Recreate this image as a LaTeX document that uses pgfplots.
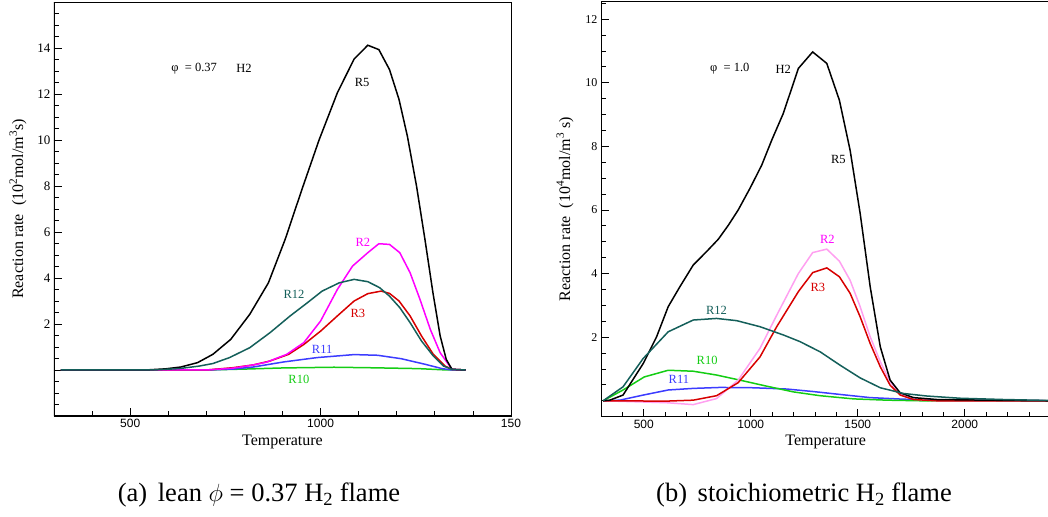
\documentclass[border=0pt]{standalone}
\usepackage{fontspec}
\setmainfont{Liberation Serif}
\newfontfamily\sansf{Liberation Sans}
\usepackage{pgfplots}
\pgfplotsset{compat=1.18}
\definecolor{cteal}{RGB}{20,95,90}
\definecolor{cblue}{RGB}{60,60,255}
\definecolor{cgreen}{RGB}{20,205,20}
\definecolor{cred}{RGB}{215,0,0}
\definecolor{cmag}{RGB}{255,0,255}
\definecolor{cpink}{RGB}{255,160,240}
\tikzset{lab/.style={font=\fontsize{12.5}{12.5}\selectfont, inner sep=0pt}}
\pgfplotsset{
 myaxis/.style={
  scale only axis, anchor=south west,
  axis line style={line width=0.8pt},
  tick pos=left, tick align=inside,
  major tick length=8pt, minor tick length=5pt,
  every tick/.style={black,line width=0.8pt},
  /pgf/number format/assume math mode=true,
  xticklabel style={font=\sansf\fontsize{12}{12}\selectfont},
  yticklabel style={font=\fontsize{13}{13}\selectfont},
  every axis plot/.append style={line width=1.5pt, no marks},
  label style={font=\fontsize{16}{16}\selectfont},
 },
}
\begin{document}
\begin{tikzpicture}
\path[use as bounding box] (0,0) rectangle (1048pt,516pt);
% ---------------- left panel ----------------
\begin{axis}[myaxis, at={(54pt,100pt)}, width=457pt, height=414pt,
  xmin=300, xmax=1500, ymin=-2, ymax=16,
  xtick={500,1000,1500}, xticklabels={500,1000,150},
  minor xtick={300,400,...,1500},
  ytick={-2,0,...,16}, yticklabels={,,2,4,6,8,10,12,14,},
  minor ytick={-2,-1.5,...,16},
  xlabel={Temperature},
  xlabel style={at={(axis description cs:0.5,-0.063)},anchor=center},
  ylabel={Reaction rate\ \ (10\textsuperscript{2}mol/m\textsuperscript{3}s)},
  ylabel style={at={(axis description cs:-0.079,0.5)},anchor=center},
]
\addplot[cgreen] coordinates {(318,0) (700,0) (800,0.04) (903,0.09) (1035,0.12) (1124,0.1) (1257,0.06) (1320,0.01) (1381,0)};
\addplot[cblue] coordinates {(318,0) (700,0) (770,0.04) (823,0.13) (903,0.35) (991,0.54) (1088,0.67) (1150,0.64) (1212,0.49) (1274,0.25) (1319,0.06) (1345,0) (1381,0)};
\addplot[cred] coordinates {(318,0) (700,0) (770,0.1) (823,0.22) (867,0.39) (916,0.68) (956,1.11) (1000,1.69) (1044,2.35) (1088,3.0) (1124,3.32) (1159,3.43) (1181,3.33) (1206,3.0) (1235,2.35) (1265,1.48) (1296,0.68) (1327,0.17) (1345,0.03) (1381,0)};
\addplot[cmag] coordinates {(318,0) (700,0) (770,0.08) (823,0.22) (858,0.34) (911,0.68) (956,1.19) (1000,2.13) (1044,3.50) (1084,4.52) (1124,5.10) (1153,5.49) (1181,5.46) (1208,5.10) (1235,4.23) (1261,3.07) (1288,1.77) (1314,0.75) (1345,0.03) (1381,0)};
\addplot[black] coordinates {(318,0) (540,0) (593,0.05) (633,0.13) (677,0.32) (717,0.68) (764,1.33) (814,2.42) (863,3.79) (907,5.68) (951,7.85) (996,10.0) (1044,12.05) (1088,13.52) (1124,14.12) (1153,13.93) (1181,13.06) (1206,11.76) (1228,10.16) (1252,7.99) (1274,5.68) (1295,3.36) (1314,1.48) (1330,0.46) (1345,0.03) (1381,0)};
\addplot[cteal] coordinates {(318,0) (560,0) (628,0.06) (681,0.17) (717,0.28) (761,0.54) (814,0.97) (867,1.62) (920,2.35) (965,2.92) (1004,3.43) (1049,3.79) (1088,3.94) (1124,3.84) (1155,3.58) (1181,3.21) (1208,2.71) (1235,2.06) (1265,1.26) (1296,0.61) (1323,0.17) (1345,0.03) (1381,0)};
\draw[line width=1.8pt] (rel axis cs:0,1) -- (rel axis cs:0,0) -- (rel axis cs:1,0);
\node[lab] at (axis cs:668,13.1) {φ\ \ = 0.37};
\node[lab] at (axis cs:799,13.1) {H2};
\node[lab] at (axis cs:1109,12.5) {R5};
\node[lab,text=cmag] at (axis cs:1111,5.57) {R2};
\node[lab,text=cteal] at (axis cs:930,3.3) {R12};
\node[lab,text=cred] at (axis cs:1098,2.48) {R3};
\node[lab,text=cblue] at (axis cs:1004,0.91) {R11};
\node[lab,text=cgreen] at (axis cs:943,-0.43) {R10};
\end{axis}
% ---------------- right panel ----------------
\begin{axis}[myaxis, at={(601pt,99.3pt)}, width=449.4pt, height=415pt,
  xmin=300, xmax=2400, ymin=-0.5, ymax=12.55,
  xtick={500,1000,1500,2000}, xticklabels={500,1000,1500,2000},
  minor xtick={300,400,...,2400},
  ytick={0,2,...,12}, yticklabels={,2,4,6,8,10,12},
  minor ytick={-0.5,0,...,12.5},
  yticklabel style={font=\fontsize{12}{12}\selectfont},
  xlabel={Temperature},
  xlabel style={at={(axis description cs:0.5,-0.060)},anchor=center},
  ylabel={Reaction rate\ \ (10\textsuperscript{4}mol/m\textsuperscript{3} s)},
  ylabel style={at={(axis description cs:-0.080,0.5)},anchor=center},
]
\addplot[cblue] coordinates {(310,0) (388,0.02) (497,0.18) (614,0.34) (731,0.39) (856,0.42) (1012,0.41) (1168,0.37) (1293,0.29) (1417,0.20) (1558,0.10) (1714,0.05) (1948,0.02) (2400,0)};
\addplot[cgreen] coordinates {(310,0) (403,0.34) (502,0.75) (614,0.96) (731,0.93) (840,0.81) (949,0.65) (1074,0.46) (1199,0.28) (1324,0.16) (1480,0.06) (1636,0.02) (1800,0) (2400,0)};
\addplot[cpink] coordinates {(310,0) (606,-0.06) (731,-0.12) (840,0.07) (941,0.65) (1043,1.65) (1121,2.69) (1222,4.0) (1289,4.66) (1355,4.77) (1414,4.39) (1464,3.79) (1511,2.96) (1558,2.01) (1605,1.23) (1651,0.60) (1698,0.21) (1760,0.05) (1870,0) (2400,0)};
\addplot[cred] coordinates {(310,0) (606,-0.01) (731,0.02) (840,0.16) (941,0.57) (1043,1.38) (1121,2.33) (1222,3.43) (1289,4.03) (1355,4.18) (1414,3.90) (1464,3.38) (1511,2.64) (1558,1.80) (1605,1.07) (1651,0.49) (1698,0.18) (1760,0.04) (1870,0) (2400,0)};
\addplot[black] coordinates {(310,0) (341,0.02) (403,0.18) (497,1.17) (559,2.0) (614,2.96) (668,3.58) (731,4.27) (793,4.69) (848,5.08) (895,5.52) (941,6.0) (996,6.68) (1051,7.41) (1098,8.2) (1152,9.04) (1222,10.45) (1289,10.97) (1355,10.61) (1414,9.45) (1464,7.88) (1511,5.89) (1558,3.58) (1605,1.70) (1651,0.65) (1698,0.25) (1760,0.10) (1870,0.04) (2104,0.02) (2400,0)};
\addplot[cteal] coordinates {(310,0) (403,0.44) (497,1.33) (614,2.17) (731,2.54) (840,2.59) (934,2.52) (1043,2.33) (1152,2.07) (1230,1.86) (1324,1.54) (1417,1.12) (1511,0.72) (1605,0.41) (1714,0.23) (1823,0.15) (1979,0.08) (2182,0.04) (2400,0.01)};
\draw[line width=1.8pt] (rel axis cs:0,1) -- (rel axis cs:0,0) -- (rel axis cs:1,0);
\node[lab] at (axis cs:902,10.43) {φ\ \ = 1.0};
\node[lab] at (axis cs:1152,10.43) {H2};
\node[lab] at (axis cs:1409,7.6) {R5};
\node[lab,text=cmag] at (axis cs:1358,5.07) {R2};
\node[lab,text=cred] at (axis cs:1313,3.58) {R3};
\node[lab,text=cteal] at (axis cs:840,2.83) {R12};
\node[lab,text=cgreen] at (axis cs:796,1.26) {R10};
\node[lab,text=cblue] at (axis cs:664,0.66) {R11};
\end{axis}
% ---------------- captions ----------------
\node[anchor=base, font=\fontsize{26.5}{26.5}\selectfont, inner sep=0pt] at (259pt,14pt) {(a)\hspace{0.4em}lean $\phi$ = 0.37 H\textsubscript{2} flame};
\node[anchor=base, font=\fontsize{26.5}{26.5}\selectfont, inner sep=0pt] at (804pt,14pt) {(b)\hspace{0.4em}stoichiometric H\textsubscript{2} flame};
\end{tikzpicture}
\end{document}
